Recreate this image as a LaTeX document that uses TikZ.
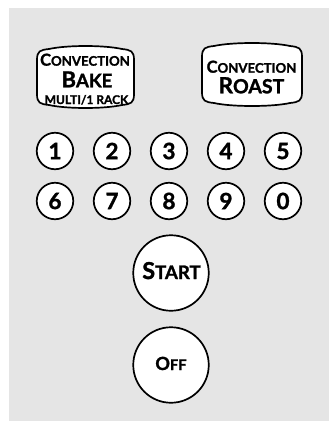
\documentclass[tikz,border=0pt]{standalone}
\usepackage{fontspec}
\setmainfont{Lato}
\newfontfamily\btnfont{Lato}[BoldFeatures={FakeBold=1.4}]
\definecolor{panel}{HTML}{E5E5E5}
\newcommand\capsc[4]{{\fontsize{#3}{#3}\selectfont #1}{\fontsize{#4}{#4}\selectfont #2}}
\newcommand\tvbox[4]{%
  \draw[btn] (#1,#2+14) .. controls (#1,#2+5) and (#1+3,#2+4) .. (#1+12,#2+3)
    .. controls (#1+30,#2-1) and (#3-30,#2-1) .. (#3-12,#2+3)
    .. controls (#3-3,#2+4) and (#3,#2+5) .. (#3,#2+14)
    -- (#3,#4-14) .. controls (#3,#4-5) and (#3-3,#4-4) .. (#3-12,#4-3)
    .. controls (#3-30,#4+1) and (#1+30,#4+1) .. (#1+12,#4-3)
    .. controls (#1+3,#4-4) and (#1,#4-5) .. (#1,#4-14) -- cycle;}
\tikzset{
  btn/.style={draw=black, line width=1.7pt, fill=white},
  lbl/.style={anchor=base, inner sep=0pt, font=\btnfont\bfseries},
  digit/.style={btn, circle, minimum size=36.5pt, inner sep=0pt, font=\btnfont\bfseries\fontsize{22.5}{22.5}\selectfont},
  bigbtn/.style={btn, circle, minimum size=75.5pt, inner sep=0pt}
}
\begin{document}
\begin{tikzpicture}[x=1pt,y=-1pt]
\useasboundingbox (0,0) rectangle (329,421);
\fill[panel] (9,8) rectangle (329,421);
\tvbox{37}{46}{134}{108}
\tvbox{202}{43}{302}{106}
\node[lbl] (bakeconv) at (85,65.7) {\capsc{C}{ONVECTION}{16.5}{13.2}};
\node[lbl] (bakename) at (87,87.3) {\capsc{B}{AKE}{21.9}{18.6}};
\node[lbl] (bakemulti) at (86.5,104) {\fontsize{12}{12}\selectfont MULTI/1 RACK};
\node[lbl] (roastconv) at (251.5,72.7) {\capsc{C}{ONVECTION}{16.5}{13.2}};
\node[lbl] (roastname) at (251.5,93.3) {\capsc{R}{OAST}{22.3}{19.5}};
\node[digit] (k1) at (55,151) {1};
\node[digit] (k2) at (112,151) {2};
\node[digit] (k3) at (169,151) {3};
\node[digit] (k4) at (226,151) {4};
\node[digit] (k5) at (283,151) {5};
\node[digit] (k6) at (55,201) {6};
\node[digit] (k7) at (112,201) {7};
\node[digit] (k8) at (169,201) {8};
\node[digit] (k9) at (226,201) {9};
\node[digit] (k0) at (283,201) {0};
\node[bigbtn] (start) at (171,273) {};
\node[lbl] (starttxt) at (171.5,279) {\capsc{S}{TART}{23.3}{18.6}};
\node[bigbtn] (off) at (171,365) {};
\node[lbl] (offtxt) at (171,370) {\capsc{O}{FF}{18.1}{14.7}};
\end{tikzpicture}
\end{document}
